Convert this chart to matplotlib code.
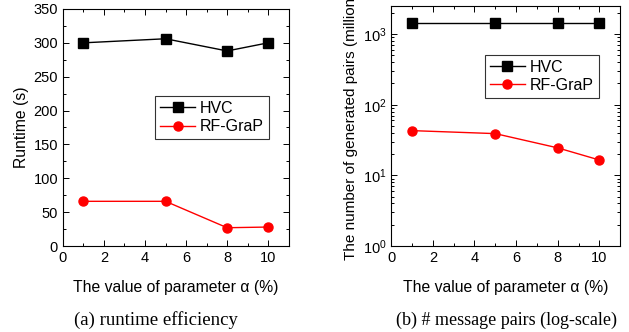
#!/usr/bin/env python3
# -*- coding: utf-8 -*-

import matplotlib
matplotlib.use('Agg')
import matplotlib.pyplot as plt
from matplotlib.ticker import MultipleLocator, LogLocator, NullFormatter


# data
alpha = [1, 5, 8, 10]

runtime_hvc = [300, 306, 288, 300]
runtime_rfgrap = [66, 66, 27, 28]

pairs_hvc = [1450, 1450, 1450, 1450]
pairs_rfgrap = [43, 39, 24.5, 16.5]


plt.rcParams['font.family'] = ['Liberation Sans', 'DejaVu Sans']

fig = plt.figure(figsize=(6.29, 3.32), dpi=100)
ax1 = fig.add_axes([0.100, 0.259, 0.359, 0.714])
ax2 = fig.add_axes([0.622, 0.259, 0.364, 0.723])

line_kw = dict(linewidth=1.0, markersize=6.5)
leg_kw = dict(loc='upper left', fontsize=11.5, frameon=True, fancybox=False,
              edgecolor='black', handlelength=2.2, handletextpad=0.3,
              borderpad=0.3, labelspacing=0.2, borderaxespad=0)


def style(ax):
    ax.tick_params(which='both', direction='in', top=True, right=True,
                   labelsize=10.5, width=0.7)
    ax.tick_params(which='major', length=4)
    ax.tick_params(which='minor', length=2)
    for s in ax.spines.values():
        s.set_linewidth(0.8)
    ax.set_xlim(0, 11)
    ax.xaxis.set_major_locator(MultipleLocator(2))
    ax.xaxis.set_minor_locator(MultipleLocator(1))
    ax.set_xlabel('The value of parameter \u03b1 (%)', fontsize=11.3, labelpad=11)


# (a) runtime
ax1.plot(alpha, runtime_hvc, color='black', marker='s', label='HVC', **line_kw)
ax1.plot(alpha, runtime_rfgrap, color='red', marker='o', label='RF-GraP', **line_kw)
ax1.set_ylim(0, 350)
ax1.yaxis.set_major_locator(MultipleLocator(50))
ax1.yaxis.set_minor_locator(MultipleLocator(25))
ax1.set_ylabel('Runtime (s)', fontsize=11.3, labelpad=3)
style(ax1)
ax1.legend(bbox_to_anchor=(0.41, 0.632), **leg_kw).get_frame().set_linewidth(0.8)

# (b) generated pairs, log scale
ax2.plot(alpha, pairs_hvc, color='black', marker='s', label='HVC', **line_kw)
ax2.plot(alpha, pairs_rfgrap, color='red', marker='o', label='RF-GraP', **line_kw)
ax2.set_yscale('log')
ax2.set_ylim(1, 2500)
ax2.yaxis.set_major_locator(LogLocator(base=10, numticks=10))
ax2.yaxis.set_minor_locator(LogLocator(base=10, subs=range(2, 10), numticks=10))
ax2.yaxis.set_minor_formatter(NullFormatter())
ax2.set_ylabel('The number of generated pairs (million)', fontsize=11, labelpad=3)
style(ax2)
ax2.legend(bbox_to_anchor=(0.41, 0.796), **leg_kw).get_frame().set_linewidth(0.8)

fig.text(0.248, 0.022, '(a) runtime efficiency', ha='center', fontsize=13.5,
         family='Liberation Serif')
fig.text(0.806, 0.022, '(b) # message pairs (log-scale)', ha='center', fontsize=13,
         family='Liberation Serif')

fig.savefig('out.png', dpi=100)
